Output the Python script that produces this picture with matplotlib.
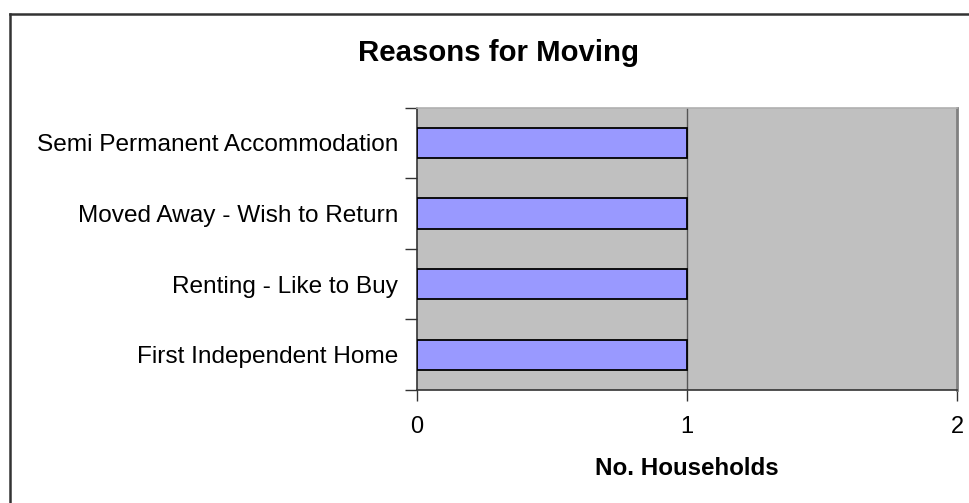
import matplotlib
matplotlib.use("Agg")
import matplotlib.pyplot as plt
from matplotlib.lines import Line2D
from matplotlib.ticker import FixedLocator

categories = ["First Independent Home", "Renting - Like to Buy",
              "Moved Away - Wish to Return", "Semi Permanent Accommodation"]
values = [1, 1, 1, 1]
x_ticks = [0, 1, 2]
title = "Reasons for Moving"
xlabel = "No. Households"

plt.rcParams['font.family'] = ['Liberation Sans', 'DejaVu Sans']

fig = plt.figure(figsize=(9.69, 5.03), dpi=100)
fig.patch.set_facecolor('white')
ax = fig.add_axes([417/969, 1-390/503, (957-417)/969, (390-107.7)/503])
ax.set_facecolor('#c0c0c0')

ypos = list(range(len(categories)))
ax.barh(ypos, values, height=0.43, color='#9999ff', edgecolor='black', linewidth=1.3, zorder=3)

ax.set_xlim(0, 2)
ax.set_ylim(-0.5, len(categories) - 0.5)
ax.set_xticks(x_ticks)
ax.set_xticklabels([str(t) for t in x_ticks], fontsize=17)
ax.set_yticks(ypos)
ax.set_yticklabels(categories, fontsize=17.6)
ax.tick_params(axis='y', length=0, pad=13.5)
ax.yaxis.set_minor_locator(FixedLocator([i - 0.5 for i in range(len(categories) + 1)]))
ax.tick_params(axis='y', which='minor', length=9, width=1, color='#333333')
ax.tick_params(axis='x', length=8, width=1, color='#333333', pad=10.5)

for x in x_ticks[1:-1]:
    ax.axvline(x, color='#555555', linewidth=1, zorder=2)

ax.spines['left'].set_color('#333333')
ax.spines['bottom'].set_color('#333333')
ax.spines['top'].set_color('#b0b0b0')
ax.spines['right'].set_color('#808080')
for s in ax.spines.values():
    s.set_linewidth(1.2)
ax.spines['right'].set_linewidth(2)

ax.set_xlabel(xlabel, fontsize=17.4, fontweight='bold', labelpad=14)
fig.text(499/969, 1-53/503, title, fontsize=21.2, fontweight='bold', ha='center', va='center')

# chart frame (left and top edges)
fig.add_artist(Line2D([9.5/969, 9.5/969], [0, 1-13.5/503], transform=fig.transFigure, color='#333333', linewidth=1.8))
fig.add_artist(Line2D([9.5/969, 1], [1-13.5/503, 1-13.5/503], transform=fig.transFigure, color='#333333', linewidth=1.8))

fig.savefig("out.png", dpi=100)
